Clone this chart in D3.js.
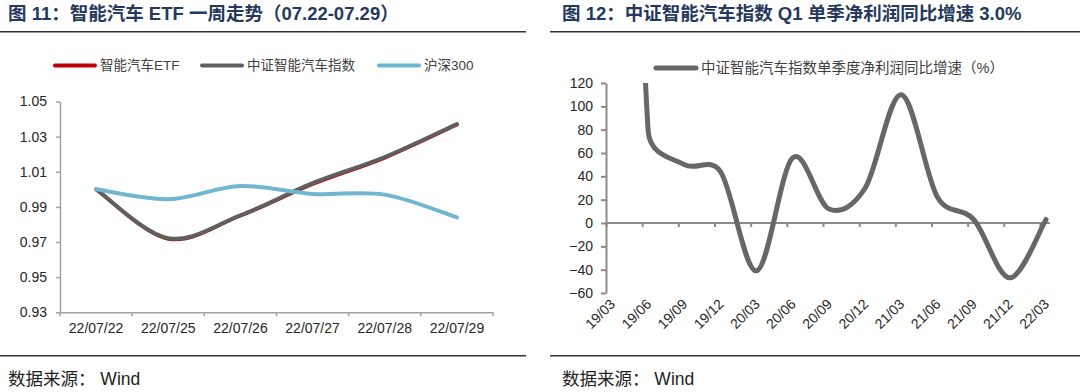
<!DOCTYPE html>
<meta charset="utf-8">
<style>
body { margin: 0; background: #fff; }
svg { display: block; font-family: "Liberation Sans", Arial, "Noto Sans CJK SC", sans-serif; }
.title { font-size: 18.5px; font-weight: bold; fill: #24395b; }
.source { font-size: 17.5px; fill: #222; }
.rule { stroke: #333; stroke-width: 1.6px; }
.legend text { font-size: 13.5px; fill: #404040; }
.tick text { font-size: 14px; fill: #262626; }
.axL path, .axL line { stroke: #a3a3a3; stroke-width: 1.5px; }
.axR path, .axR line { stroke: #8a8a8a; stroke-width: 2px; }
</style>
<svg width="1080" height="392"></svg>
<script src="https://cdn.jsdelivr.net/npm/d3@7"></script>
<script>
// left chart: one week, normalised
var etfDates = ["22/07/22", "22/07/25", "22/07/26", "22/07/27", "22/07/28", "22/07/29"];
var etfValues = [1.000, 0.9718, 0.9850, 1.0030, 1.0180, 1.0368];
var indexValues = [1.000, 0.9722, 0.9852, 1.0035, 1.0184, 1.0372];
var hs300Values = [1.000, 0.9944, 1.0019, 0.9974, 0.9970, 0.9840];
var leftTicks = [0.93, 0.95, 0.97, 0.99, 1.01, 1.03, 1.05];

// right chart: quarterly net profit yoy (%), 19/03 is far off the top
var quarters = ["19/03", "19/06", "19/09", "19/12", "20/03", "20/06", "20/09", "20/12", "21/03", "21/06", "21/09", "21/12", "22/03"];
var profitGrowth = [1000, 79, 50, 44, -41, 56, 12, 30, 110, 22, 3, -47, 3.0];
var rightTicks = [-60, -40, -20, 0, 20, 40, 60, 80, 100, 120];

// excel style smoothed line: catmull-rom tangents, handles capped at half a segment
function excelCurve(context) {
  var pts;
  return {
    areaStart: function() {}, areaEnd: function() {},
    lineStart: function() { pts = []; },
    point: function(x, y) { pts.push([+x, +y]); },
    lineEnd: function() {
      var n = pts.length;
      if (!n) return;
      context.moveTo(pts[0][0], pts[0][1]);
      function handle(i, j) {
        var p = pts[i], a = pts[Math.max(i - 1, 0)], b = pts[Math.min(i + 1, n - 1)];
        var tx = b[0] - a[0], ty = b[1] - a[1], tl = Math.hypot(tx, ty);
        var seg = Math.hypot(pts[j][0] - p[0], pts[j][1] - p[1]);
        var len = Math.min(tl / 6, seg / 2), s = j > i ? 1 : -1;
        return tl ? [p[0] + s * tx / tl * len, p[1] + s * ty / tl * len] : p;
      }
      for (var i = 0; i < n - 1; i++) {
        var c1 = handle(i, i + 1), c2 = handle(i + 1, i);
        context.bezierCurveTo(c1[0], c1[1], c2[0], c2[1], pts[i + 1][0], pts[i + 1][1]);
      }
    }
  };
}

var svg = d3.select("svg");

// titles, rules and sources
svg.append("text").attr("class", "title").attr("x", 8).attr("y", 20)
    .text("图 11：智能汽车 ETF 一周走势（07.22-07.29）");
svg.append("text").attr("class", "title").attr("x", 562).attr("y", 20)
    .text("图 12：中证智能汽车指数 Q1 单季净利润同比增速 3.0%");
[[0, 526], [550, 1080]].forEach(function(r) {
  svg.append("line").attr("class", "rule").attr("x1", r[0]).attr("x2", r[1]).attr("y1", 31.7).attr("y2", 31.7);
  svg.append("line").attr("class", "rule").attr("x1", r[0]).attr("x2", r[1]).attr("y1", 355.7).attr("y2", 355.7);
});
svg.append("text").attr("class", "source").attr("x", 8).attr("y", 385).text("数据来源： Wind");
svg.append("text").attr("class", "source").attr("x", 562).attr("y", 385).text("数据来源： Wind");

// ---------- left chart ----------
var xL = d3.scaleBand().domain(etfDates).range([60, 493]);
var yL = d3.scaleLinear().domain([0.93, 1.05]).range([312.3, 101.5]);

svg.append("g").attr("class", "axL").attr("transform", "translate(60,0)")
    .call(d3.axisLeft(yL).tickValues(leftTicks).tickFormat(d3.format(".2f")).tickSize(4).tickSizeOuter(0).tickPadding(9));
var gxL = svg.append("g").attr("class", "axL").attr("transform", "translate(0," + yL(0.93) + ")")
    .call(d3.axisBottom(xL).tickSize(0).tickPadding(11));
gxL.selectAll(".tick line").remove();
gxL.selectAll(".bound").data(d3.range(etfDates.length + 1)).enter().append("line")
    .attr("x1", function(i) { return xL.range()[0] + i * xL.step(); })
    .attr("x2", function(i) { return xL.range()[0] + i * xL.step(); })
    .attr("y1", 0).attr("y2", 4);

var lineL = d3.line()
    .x(function(d, i) { return xL(etfDates[i]) + xL.bandwidth() / 2; })
    .y(function(d) { return yL(d); })
    .curve(excelCurve);

var seriesL = [
  {name: "智能汽车ETF", values: etfValues, color: "#c00000", width: 3.6},
  {name: "中证智能汽车指数", values: indexValues, color: "#5f5f5f", width: 4},
  {name: "沪深300", values: hs300Values, color: "#70b6d0", width: 4}
];
seriesL.forEach(function(s) {
  svg.append("path").attr("d", lineL(s.values)).attr("fill", "none")
      .attr("stroke", s.color).attr("stroke-width", s.width).attr("stroke-linecap", "round");
});

var legL = svg.append("g").attr("class", "legend");
var legX = [55, 202, 379];
seriesL.forEach(function(s, i) {
  legL.append("line").attr("x1", legX[i]).attr("x2", legX[i] + 40).attr("y1", 65.6).attr("y2", 65.6)
      .attr("stroke", s.color).attr("stroke-width", 4).attr("stroke-linecap", "round");
  legL.append("text").attr("x", legX[i] + 45).attr("y", 65.6).attr("dy", "0.36em").text(s.name);
});

// ---------- right chart ----------
var xR = d3.scalePoint().domain(quarters).range([612, 1046]);
var yR = d3.scaleLinear().domain([-60, 120]).range([293, 83]);

svg.append("g").attr("class", "axR").attr("transform", "translate(606,0)")
    .call(d3.axisLeft(yR).tickValues(rightTicks).tickSize(5).tickSizeOuter(0).tickPadding(8));

var gxR = svg.append("g").attr("class", "axR").attr("transform", "translate(-6," + yR(0) + ")")
    .call(d3.axisBottom(xR).tickSize(4).tickSizeOuter(0).tickFormat(""));
gxR.select(".domain").remove();
gxR.append("line").attr("x1", 612).attr("x2", xR.range()[1] + 10).attr("y1", 0).attr("y2", 0);

svg.selectAll(".qlab").data(quarters).enter().append("text")
    .attr("class", "qlab")
    .attr("transform", function(d) { return "translate(" + (xR(d) + 4) + ",305) rotate(-45)"; })
    .attr("text-anchor", "end")
    .style("font-size", "14px").style("fill", "#262626")
    .text(function(d) { return d; });

svg.append("clipPath").attr("id", "clipR").append("rect")
    .attr("x", 600).attr("y", yR(120)).attr("width", 470).attr("height", yR(-60) - yR(120));

var lineR = d3.line()
    .x(function(d, i) { return xR(quarters[i]); })
    .y(function(d) { return yR(d); })
    .curve(excelCurve);

svg.append("path").attr("d", lineR(profitGrowth)).attr("clip-path", "url(#clipR)")
    .attr("fill", "none").attr("stroke", "#676767").attr("stroke-width", 5).attr("stroke-linecap", "round");

var legR = svg.append("g").attr("class", "legend");
legR.append("line").attr("x1", 656).attr("x2", 696).attr("y1", 68).attr("y2", 68)
    .attr("stroke", "#676767").attr("stroke-width", 5).attr("stroke-linecap", "round");
legR.append("text").attr("x", 701).attr("y", 68).attr("dy", "0.36em").style("font-size", "14.5px")
    .text("中证智能汽车指数单季度净利润同比增速（%）");
</script>
